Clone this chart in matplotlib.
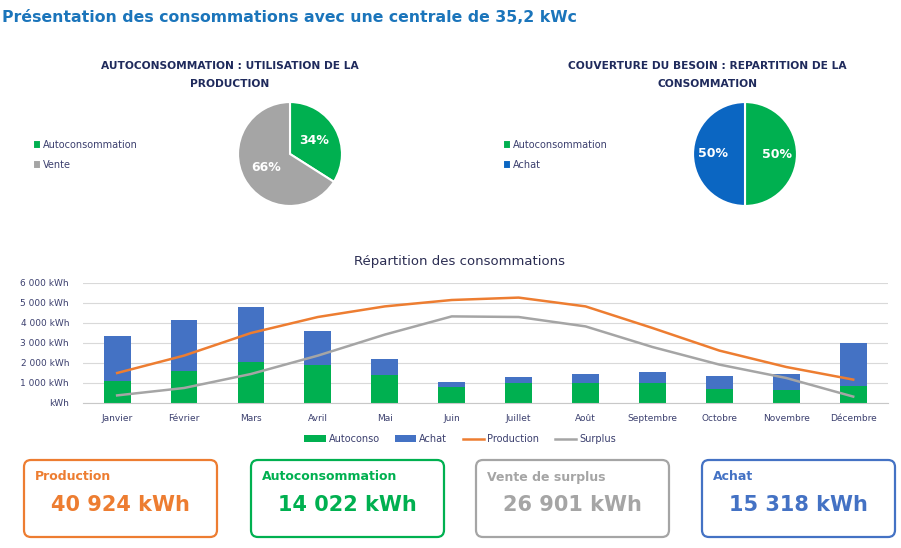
import matplotlib.pyplot as plt
from matplotlib.patches import FancyBboxPatch
import numpy as np

# ----------------------
# data
# ----------------------
months = ["Janvier", "Février", "Mars", "Avril", "Mai", "Juin", "Juillet",
          "Août", "Septembre", "Octobre", "Novembre", "Décembre"]
autoconso = [1120, 1580, 2030, 1880, 1420, 800, 980, 980, 980, 700, 630, 850]
achat = [2250, 2550, 2770, 1700, 800, 250, 340, 470, 570, 650, 820, 2150]
production = [1500, 2370, 3500, 4300, 4830, 5150, 5270, 4830, 3750, 2620, 1800, 1170]
surplus = [380, 750, 1450, 2370, 3420, 4330, 4300, 3830, 2800, 1920, 1250, 320]
yticks = [0, 1000, 2000, 3000, 4000, 5000, 6000]
ytick_labels = ["kWh", "1 000 kWh", "2 000 kWh", "3 000 kWh", "4 000 kWh", "5 000 kWh", "6 000 kWh"]

pie1_labels = ["Autoconsommation", "Vente"]
pie1_values = [34, 66]
pie2_labels = ["Autoconsommation", "Achat"]
pie2_values = [50, 50]

kpi_labels = ["Production", "Autoconsommation", "Vente de surplus", "Achat"]
kpi_values = ["40 924 kWh", "14 022 kWh", "26 901 kWh", "15 318 kWh"]

GREEN = "#00b050"
BLUE = "#4472c4"
PIE_BLUE = "#0b66c2"
ORANGE = "#ed7d31"
GREY = "#a5a5a5"
NAVY = "#1f2a5c"
TXT = "#3b3f6e"
TITLE_BLUE = "#1b75bb"
kpi_colors = [ORANGE, GREEN, GREY, BLUE]

W, H = 901, 548
plt.rcParams["font.family"] = ["DejaVu Sans"]

fig = plt.figure(figsize=(W / 100, H / 100), dpi=100)

# background axes in pixel coords for texts and boxes
bg = fig.add_axes([0, 0, 1, 1], zorder=-1)
bg.set_xlim(0, W)
bg.set_ylim(H, 0)
bg.axis("off")

bg.text(2, 18, "Présentation des consommations avec une centrale de 35,2 kWc",
        color=TITLE_BLUE, fontsize=11.3, fontweight="bold", ha="left", va="center")


def px_rect(x0, y0, w, h):
    return [x0 / W, 1 - (y0 + h) / H, w / W, h / H]


# ----------------------
# pies
# ----------------------
def draw_pie(rect, values, labels, colors, title, title_x, leg_x, pctdist):
    ax = fig.add_axes(rect)
    wedges, _, autotexts = ax.pie(values, colors=colors, startangle=90, counterclock=False,
                                  autopct="%d%%", pctdistance=pctdist,
                                  wedgeprops=dict(edgecolor="white", linewidth=1.5))
    for t in autotexts:
        t.set_color("white")
        t.set_fontweight("bold")
        t.set_fontsize(9)
    ax.set_xlim(-1.02, 1.02)
    ax.set_ylim(-1.02, 1.02)
    ax.set_aspect("equal")
    ax.legend(wedges, labels, loc="center left",
              bbox_to_anchor=(leg_x / W, 1 - 155 / H), bbox_transform=fig.transFigure,
              frameon=False, fontsize=7, handlelength=0.8, handleheight=1.0,
              handletextpad=0.25, labelspacing=1.05, labelcolor=TXT, borderpad=0)
    bg.text(title_x, 75, title, color=NAVY, fontsize=7.7, fontweight="bold",
            ha="center", va="center", linespacing=2.0)
    return ax


draw_pie(px_rect(237, 101, 106, 106), pie1_values, pie1_labels, [GREEN, GREY],
         "AUTOCONSOMMATION : UTILISATION DE LA\nPRODUCTION", 230, 28, 0.52)
draw_pie(px_rect(692, 101, 106, 106), pie2_values, pie2_labels, [GREEN, PIE_BLUE],
         "COUVERTURE DU BESOIN : REPARTITION DE LA\nCONSOMMATION", 707, 498, 0.62)

# ----------------------
# bar + line chart
# ----------------------
ax = fig.add_axes(px_rect(83, 283, 805, 120))
x = np.arange(len(months))
b1 = ax.bar(x, autoconso, width=0.4, color=GREEN, label="Autoconso", zorder=2)
b2 = ax.bar(x, achat, width=0.4, bottom=autoconso, color=BLUE, label="Achat", zorder=2)
l1, = ax.plot(x, production, color=ORANGE, linewidth=1.8, label="Production", zorder=3)
l2, = ax.plot(x, surplus, color=GREY, linewidth=1.8, label="Surplus", zorder=3)
ax.set_xlim(-0.51, 11.52)
ax.set_ylim(0, 6000)
ax.set_yticks(yticks)
ax.set_yticklabels(ytick_labels)
ax.set_xticks(x)
ax.set_xticklabels(months)
ax.tick_params(axis="both", length=0, labelsize=6.5, labelcolor=TXT)
ax.tick_params(axis="y", pad=10)
ax.tick_params(axis="x", pad=8)
ax.grid(axis="y", color="#d9d9d9", linewidth=0.8, zorder=0)
for s in ["top", "right", "left"]:
    ax.spines[s].set_visible(False)
ax.spines["bottom"].set_color("#c8c8c8")
bg.text(460, 261, "Répartition des consommations", color="#2b2d52", fontsize=9.5,
        ha="center", va="center")
ax.legend([b1, b2, l1, l2], ["Autoconso", "Achat", "Production", "Surplus"],
          loc="center", bbox_to_anchor=(460 / W, 1 - 439 / H), bbox_transform=fig.transFigure,
          ncol=4, frameon=False, fontsize=7, handlelength=2.2, handleheight=0.6,
          handletextpad=0.3, columnspacing=1.6, labelcolor=TXT)

# ----------------------
# KPI boxes
# ----------------------
box_left = [24, 251, 476, 702]
for left, lab, val, col in zip(box_left, kpi_labels, kpi_values, kpi_colors):
    bg.add_patch(FancyBboxPatch((left, 460), 193, 77, boxstyle="round,pad=0,rounding_size=7",
                                facecolor="white", edgecolor=col, linewidth=1.6))
    bg.text(left + 11, 477, lab, color=col, fontsize=9, fontweight="bold", ha="left", va="center")
    bg.text(left + 96.5, 505, val, color=col, fontsize=15, fontweight="bold", ha="center", va="center")

fig.savefig("out.png", dpi=100)
